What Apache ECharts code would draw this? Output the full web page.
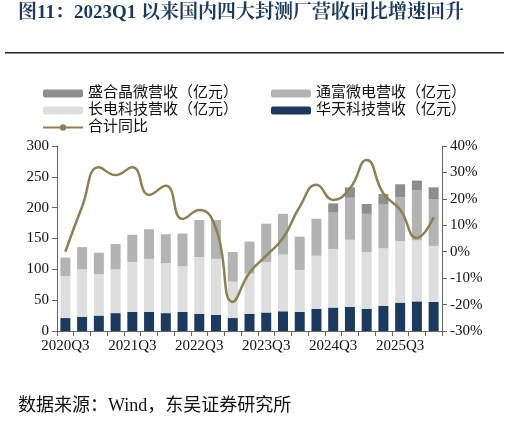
<!DOCTYPE html>
<html><head><meta charset="utf-8">
<script src="https://cdn.jsdelivr.net/npm/echarts@6/dist/echarts.min.js"></script>
<style>html,body{margin:0;padding:0;background:#fff}#c{width:510px;height:421px}</style>
</head><body><div id="c"></div>
<script>
const categories=['2020Q3','2020Q4','2021Q1','2021Q2','2021Q3','2021Q4','2022Q1','2022Q2','2022Q3','2022Q4','2023Q1','2023Q2','2023Q3','2023Q4','2024Q1','2024Q2','2024Q3','2024Q4','2025Q1','2025Q2','2025Q3','2025Q4','2026Q1'];
const huatian=[21,23,25,29,31,31,29,31,28,26,21,28,30,32,31,36,38,39,36,41,46,48,47];
const changdian=[68,77,67,71,81,86,81,74,92,91,59,65,82,92,68,86,95,109,92,93,100,99,91];
const tongfu=[30,36,35,41,44,48,47,53,60,63,48,52,62,66,54,60,59,68,62,71,71,81,76];
const shenghe=[null,null,null,null,null,null,null,null,null,null,null,null,null,null,null,null,15,17,16,17,21,16,19];
const yoy=[0,17,32,29,32,21.5,25,12.4,15.8,8.8,-19,-8,-1.5,5.2,17,25.3,19.6,24,34.7,22,15.9,5.2,13];
const serif='"Liberation Serif","Noto Sans CJK SC",serif';
const chart=echarts.init(document.getElementById('c'));
const bar=(name,data,color)=>({name,type:'bar',stack:'s',data,barWidth:10,itemStyle:{color},emphasis:{disabled:true}});
const lt={fontSize:15,color:'#111',fontFamily:serif};
chart.setOption({
  animation:false,
  textStyle:{fontFamily:serif},
  graphic:[
    {type:'text',left:18,top:4,style:{text:'图11：2023Q1 以来国内四大封测厂营收同比增速回升',fill:'#1b3a5e',font:'bold 19px "Liberation Serif","Noto Serif CJK SC","Noto Sans CJK SC",serif'}},
    {type:'rect',shape:{x:5,y:52,width:499,height:1.5},style:{fill:'#222'}},
    {type:'text',left:18,top:397,style:{text:'数据来源：Wind，东吴证券研究所',fill:'#111',font:'18px '+serif}}
  ],
  legend:[
    {left:37,top:81,orient:'vertical',itemWidth:40,itemHeight:8,itemGap:2,data:['盛合晶微营收（亿元）','长电科技营收（亿元）','合计同比'],textStyle:lt},
    {left:266,top:81,orient:'vertical',itemWidth:40,itemHeight:8,itemGap:2,data:['通富微电营收（亿元）','华天科技营收（亿元）'],textStyle:lt}
  ],
  grid:{left:57,right:68,top:146,bottom:90},
  xAxis:{type:'category',data:categories,axisLine:{lineStyle:{color:'#666'}},axisTick:{show:true,interval:0,lineStyle:{color:'#666'}},
    axisLabel:{interval:3,color:'#111',fontSize:15,fontFamily:serif,margin:8}},
  yAxis:[
    {type:'value',min:0,max:300,interval:50,axisLine:{show:true,lineStyle:{color:'#666'}},axisTick:{show:true},splitLine:{show:false},axisLabel:{color:'#111',fontSize:15,fontFamily:serif}},
    {type:'value',min:-30,max:40,interval:10,axisLine:{show:true,lineStyle:{color:'#666'}},axisTick:{show:true},splitLine:{show:false},axisLabel:{formatter:'{value}%',color:'#111',fontSize:15,fontFamily:serif}}
  ],
  series:[
    bar('华天科技营收（亿元）',huatian,'#1b3a5e'),
    bar('长电科技营收（亿元）',changdian,'#dedede'),
    bar('通富微电营收（亿元）',tongfu,'#b3b3b3'),
    bar('盛合晶微营收（亿元）',shenghe,'#8e8e8e'),
    {name:'合计同比',type:'line',yAxisIndex:1,data:yoy,smooth:true,symbol:'none',lineStyle:{color:'#8b8152',width:2.5},itemStyle:{color:'#8b8152'}}
  ]
});
</script></body></html>
